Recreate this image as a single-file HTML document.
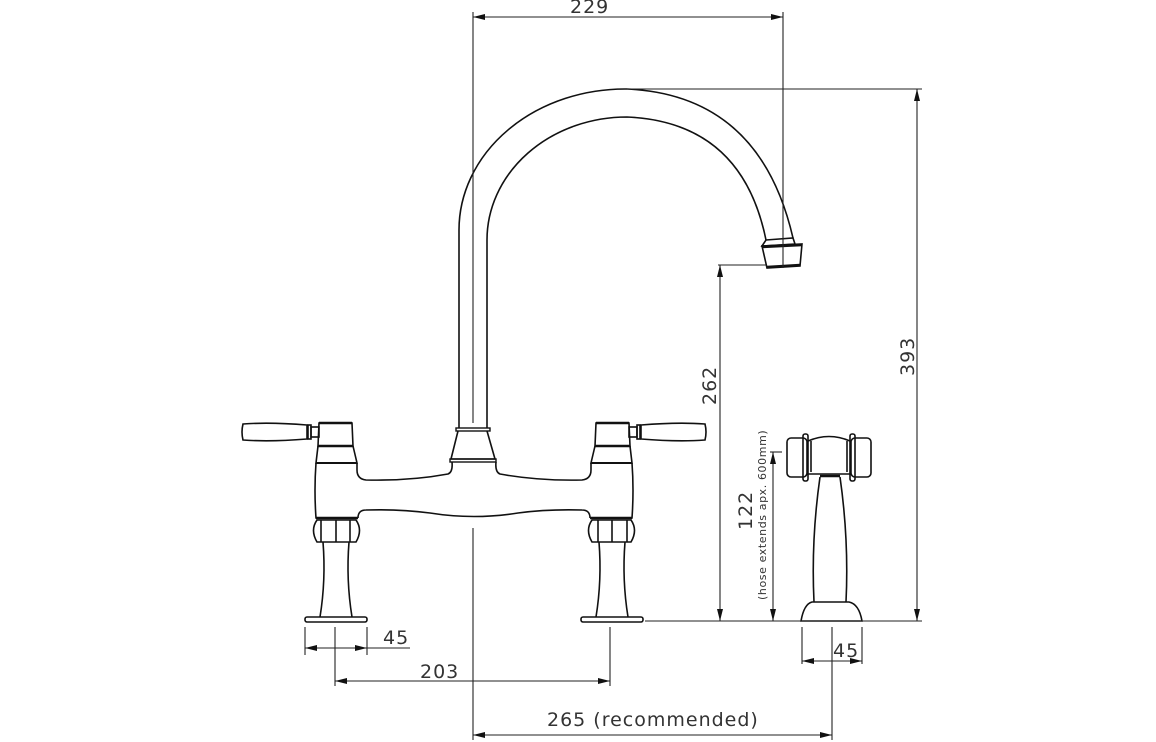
<!DOCTYPE html>
<html><head><meta charset="utf-8"><style>
html,body{margin:0;padding:0;background:#fff;}
svg{display:block;}
text{font-family:"DejaVu Sans","Liberation Sans",sans-serif;fill:#333;}
</style></head><body>
<svg width="1156" height="742" viewBox="0 0 1156 742" xmlns="http://www.w3.org/2000/svg">
<defs>
<marker id="a" viewBox="0 0 12 6" refX="12" refY="3" markerWidth="12" markerHeight="6" orient="auto-start-reverse" markerUnits="userSpaceOnUse"><path d="M0,0 L12,3 L0,6 z" fill="#111"/></marker>
<g id="valve" fill="none" stroke="#111" stroke-width="1.6">
  <path d="M243,424 Q241,432 243,440 Q270,442 307,439 L307,425 Q270,422 243,424 Z"/>
  <rect x="308" y="425" width="3" height="14"/>
  <rect x="311" y="427" width="8" height="10"/>
  <path d="M319,423 L352,423 L353,446 L318,446 Z"/>
  <line x1="319" y1="423" x2="352" y2="423" stroke-width="2.5"/>
  <line x1="318" y1="446" x2="353" y2="446" stroke-width="2.5"/>
  <path d="M318,446 L316,463 L357,463 L353,446"/>
  <line x1="316" y1="463" x2="357" y2="463" stroke-width="2"/>
  <path d="M316,463 Q314,490 316,518 L358,518"/>
  <line x1="316" y1="518" x2="358" y2="518" stroke-width="2.5"/>
  <path d="M317,520 Q310,530 317,542 L356,542 Q363,530 356,520 Z"/>
  <line x1="321" y1="520" x2="321" y2="542"/>
  <line x1="336" y1="520" x2="336" y2="542"/>
  <line x1="350" y1="520" x2="350" y2="542"/>
  <path d="M323,542 Q326,580 320,617 M349,542 Q346,580 352,617"/>
  <rect x="305" y="617" width="62" height="5" rx="2"/>
</g>
</defs>
<g fill="none" stroke="#111" stroke-width="1.6">
  <path d="M459,428 L459,230 A166,141 0 0 1 627,89 Q760,95 793,238"/>
  <path d="M487,428 L487,240 A140,123 0 0 1 627,117 Q742,122 766,240"/>
  <path d="M766,240 L793,238 L795,244 L762,246 Z"/>
  <path d="M762,246 L802,244 L800,266 L767,268 Z"/>
  <line x1="762" y1="247" x2="802" y2="245" stroke-width="2.5"/>
  <line x1="767" y1="267" x2="800" y2="265" stroke-width="2.5"/>
  <rect x="456" y="428" width="34" height="3" stroke-width="1.4"/>
  <path d="M458,431 L451,459 L495,459 L487,431"/>
  <rect x="450" y="459" width="46" height="3" stroke-width="1.4"/>
  <path d="M357,463 L357,470 Q357,479 366,480 Q410,481 448,474 Q453,472 452,462"/>
  <path d="M591,463 L591,470 Q591,479 582,480 Q538,481 500,474 Q495,472 496,462"/>
  <path d="M358,518 Q358,510 366,510 Q400,509 430,513 Q474,520 518,513 Q548,509 582,510 Q590,510 590,518"/>
  <rect x="787" y="438" width="20" height="39" rx="4"/>
  <rect x="851" y="438" width="20" height="39" rx="4"/>
  <rect x="803" y="434" width="5" height="47" rx="2"/>
  <rect x="850" y="434" width="5" height="47" rx="2"/>
  <path d="M808,441 Q829,432 850,441 M808,474 L850,474"/>
  <line x1="811" y1="441" x2="811" y2="472"/>
  <line x1="847" y1="441" x2="847" y2="472"/>
  <line x1="820" y1="476" x2="840" y2="476" stroke-width="2.5"/>
  <path d="M820,477 Q811,540 814,602 M840,477 Q849,540 846,602"/>
  <path d="M801,621 Q804,604 812,602 L849,602 Q859,604 862,621 Z"/>
</g>
<use href="#valve"/>
<use href="#valve" transform="translate(948,0) scale(-1,1)"/>
<g fill="none" stroke="#222" stroke-width="1.1">
  <line x1="473" y1="12" x2="473" y2="423"/>
  <line x1="473" y1="528" x2="473" y2="740"/>
  <line x1="783" y1="12" x2="783" y2="268"/>
  <line x1="473" y1="17" x2="783" y2="17" marker-start="url(#a)" marker-end="url(#a)"/>
  <line x1="627" y1="89" x2="922" y2="89"/>
  <line x1="917" y1="89" x2="917" y2="621" marker-start="url(#a)" marker-end="url(#a)"/>
  <line x1="645" y1="621" x2="922" y2="621"/>
  <line x1="718" y1="265" x2="766" y2="265"/>
  <line x1="720" y1="265" x2="720" y2="621" marker-start="url(#a)" marker-end="url(#a)"/>
  <line x1="770" y1="452" x2="782" y2="452"/>
  <line x1="773" y1="452" x2="773" y2="621" marker-start="url(#a)" marker-end="url(#a)"/>
  <line x1="305" y1="627" x2="305" y2="655"/>
  <line x1="367" y1="627" x2="367" y2="655"/>
  <line x1="335" y1="627" x2="335" y2="686"/>
  <line x1="305" y1="648" x2="367" y2="648" marker-start="url(#a)" marker-end="url(#a)"/>
  <line x1="367" y1="648" x2="410" y2="648"/>
  <line x1="610" y1="627" x2="610" y2="686"/>
  <line x1="335" y1="681" x2="610" y2="681" marker-start="url(#a)" marker-end="url(#a)"/>
  <line x1="802" y1="627" x2="802" y2="664"/>
  <line x1="862" y1="627" x2="862" y2="664"/>
  <line x1="832" y1="627" x2="832" y2="740"/>
  <line x1="802" y1="661" x2="862" y2="661" marker-start="url(#a)" marker-end="url(#a)"/>
  <line x1="473" y1="735" x2="832" y2="735" marker-start="url(#a)" marker-end="url(#a)"/>
</g>
<g font-size="19" letter-spacing="1">
  <text x="570" y="13">229</text>
  <text x="383" y="644">45</text>
  <text x="420" y="678">203</text>
  <text x="833" y="657">45</text>
  <text x="547" y="726">265 (recommended)</text>
  <text transform="translate(716,405) rotate(-90)">262</text>
  <text transform="translate(914,376) rotate(-90)">393</text>
  <text transform="translate(752,530) rotate(-90)">122</text>
  <text font-size="11" letter-spacing="0.6" transform="translate(766,600) rotate(-90)">(hose extends apx. 600mm)</text>
</g>
</svg>
</body></html>
